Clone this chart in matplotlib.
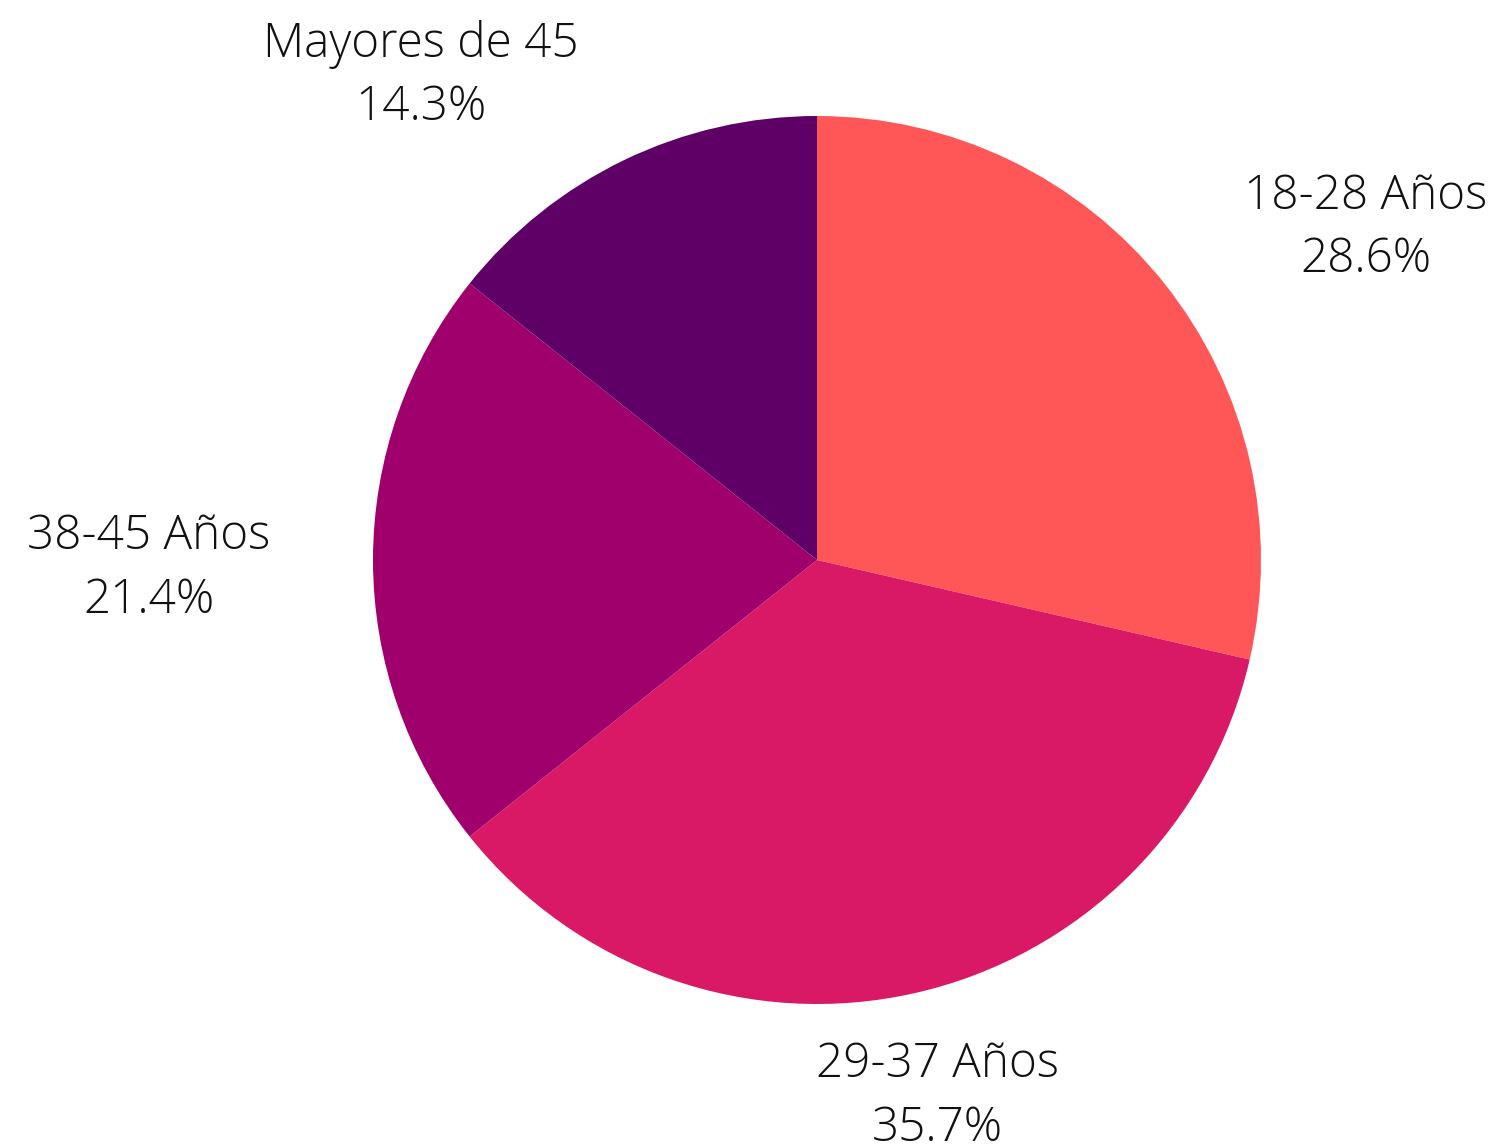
import matplotlib
matplotlib.use("Agg")
import matplotlib.pyplot as plt

categories = ["18-28 Años", "29-37 Años", "38-45 Años", "Mayores de 45"]
values = [28.6, 35.7, 21.4, 14.3]
colors = ["#FF5757", "#D91965", "#A0006B", "#5E0066"]

# label centres in pie data units (radius = 1)
label_pos = [(1.236, 0.747), (0.272, -1.208), (-1.505, -0.019), (-0.892, 1.090)]

fig = plt.figure(figsize=(14.95, 11.45), dpi=100)
ax = fig.add_axes([817/1495 - 444/1495, (1145-560)/1145 - 444/1145, 888/1495, 888/1145])
wedges, _ = ax.pie(values, colors=colors, startangle=90, counterclock=False,
                   radius=1, wedgeprops=dict(linewidth=0))
ax.set_xlim(-1, 1)
ax.set_ylim(-1, 1)
ax.set_aspect("equal")
ax.axis("off")

for cat, v, (x, y) in zip(categories, values, label_pos):
    ax.text(x, y, f"{cat}\n{v:.1f}%", ha="center", va="center", fontsize=34.3,
            family="Open Sans", fontweight="light", color="#111111",
            linespacing=1.42, clip_on=False)

fig.savefig("out.png", dpi=100)
